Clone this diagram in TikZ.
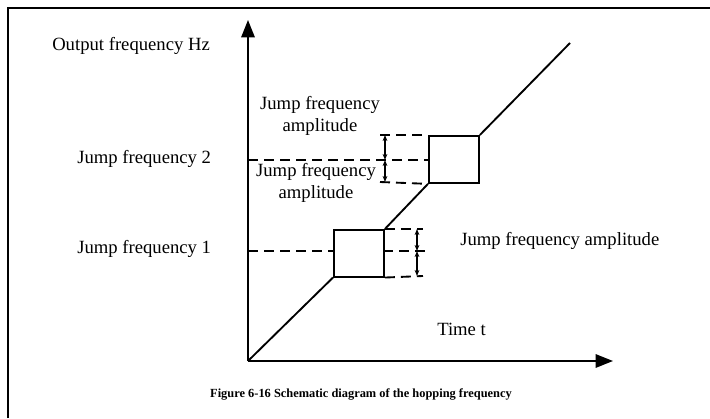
\documentclass[tikz,border=0pt]{standalone}
\usepackage{fontspec}
\setmainfont{Liberation Serif}
\usetikzlibrary{arrows.meta}
\begin{document}
\begin{tikzpicture}[x=0.75pt,y=-0.75pt,
  lbl/.style={inner sep=0pt,font=\fontsize{14}{16.5}\selectfont},
  axis/.style={line width=1.5pt,-{Triangle[length=13pt,width=10pt]}},
  curve/.style={line width=1.4pt},
  boxline/.style={line width=1.4pt},
  dash line/.style={line width=1.4pt,dash pattern=on 7.5pt off 4.5pt},
  dimarrow/.style={line width=0.8pt,{Stealth[length=4.5pt,width=3.5pt]}-{Stealth[length=4.5pt,width=3.5pt]}},
  frame line/.style={line width=1.2pt}]
\useasboundingbox (0,0) rectangle (710,418);
% frame
\coordinate (fl) at (8,418);
\coordinate (ftl) at (8,8);
\coordinate (ftr) at (710,8);
\draw[frame line] (fl) -- (ftl) -- (ftr);
% axes
\coordinate (O) at (248,361);
\coordinate (ytip) at (248,20);
\coordinate (xtip) at (613,361);
\draw[axis] (O) -- (ytip);
\draw[axis] (O) -- (xtip);
% boxes
\node[boxline,draw,minimum width=37.5pt,minimum height=35pt,inner sep=0pt,anchor=north west] (b1) at (333,229) {};
\node[boxline,draw,minimum width=37.5pt,minimum height=35.25pt,inner sep=0pt,anchor=north west] (b2) at (428,135) {};
\coordinate (end) at (570,43);
\draw[curve] (O) -- (b1.south west);
\draw[curve] (b1.north east) -- (b2.south west);
\draw[curve] (b2.north east) -- (end);
% dashed lines box 2
\coordinate (f2l) at (248,160);
\coordinate (f2r) at (428,160);
\coordinate (u2t) at (380,135);
\coordinate (u2b) at (380,182);
\draw[dash line] (f2l) -- (f2r);
\draw[dash line] (u2t) -- (b2.north west);
\draw[dash line] (u2b) -- (b2.south west);
\coordinate (a2t) at (385,135);
\coordinate (a2m) at (385,160);
\coordinate (a2b) at (385,182);
\draw[dimarrow] (a2t) -- (a2m);
\draw[dimarrow] (a2m) -- (a2b);
% dashed lines box 1
\coordinate (f1l) at (248,251);
\coordinate (f1m) at (333,251);
\coordinate (f1r) at (383,251);
\coordinate (f1e) at (429,251);
\coordinate (r1t) at (423,229);
\coordinate (r1b) at (423,276);
\draw[dash line] (f1l) -- (f1m);
\draw[dash line] (f1r) -- (f1e);
\draw[dash line] (b1.north east) -- (r1t);
\draw[dash line] (b1.south east) -- (r1b);
\coordinate (a1t) at (417,229);
\coordinate (a1m) at (417,251);
\coordinate (a1b) at (417,276);
\draw[dimarrow] (a1t) -- (a1m);
\draw[dimarrow] (a1m) -- (a1b);
% labels
\node[lbl,anchor=base west] (ylab) at (52,50) {Output frequency Hz};
\node[lbl,anchor=base west] (jf2) at (77,163) {Jump frequency 2};
\node[lbl,anchor=base west] (jf1) at (77,253) {Jump frequency 1};
\node[lbl,align=center] (ja1) at (320,116) {Jump frequency\\amplitude};
\node[lbl,align=center] (ja2) at (316,183) {Jump frequency\\amplitude};
\node[lbl,anchor=base west] (ja3) at (460,245) {Jump frequency amplitude};
\node[lbl,anchor=base west] (tlab) at (437,335) {Time t};
\node[inner sep=0pt,anchor=base,font=\fontsize{9.3}{11}\selectfont\bfseries] (cap) at (361,397) {Figure 6-16 Schematic diagram of the hopping frequency};
\end{tikzpicture}
\end{document}
